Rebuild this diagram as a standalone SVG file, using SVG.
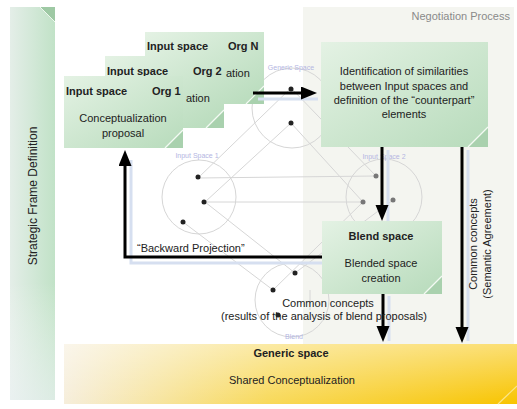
<svg xmlns="http://www.w3.org/2000/svg" width="517" height="409" viewBox="0 0 517 409">
<style>
text{font-family:"Liberation Sans",Arial,sans-serif;fill:#222}
.t11{font-size:11px}
.b{font-weight:bold}
.c{text-anchor:middle}
.faint{fill:none;stroke:#d6d6d6;stroke-width:1}
.flab{font-size:7px;fill:#b4b6e2}
.dot{fill:#222}
.dotg{fill:#777}
.arrow{fill:none;stroke:#000;stroke-width:3;marker-end:url(#ah)}
.shadow{fill:none;stroke:#d6dff0;stroke-width:3}
.fold{fill:#a9d1ae}
.foldline{stroke:#f4faf4;stroke-width:1.2}
</style>
<defs>
<linearGradient id="gCard" x1="0" y1="0" x2="1" y2="1">
<stop offset="0" stop-color="#e4f2e4"/>
<stop offset="1" stop-color="#b7dbbb"/>
</linearGradient>
<linearGradient id="gBar" x1="0" y1="0" x2="1" y2="0">
<stop offset="0" stop-color="#e4eee8"/>
<stop offset="1" stop-color="#c1e2c7"/>
</linearGradient>
<linearGradient id="gBarV" x1="0" y1="0" x2="0" y2="1">
<stop offset="0" stop-color="#fff" stop-opacity="0"/>
<stop offset="0.7" stop-color="#fff" stop-opacity="0"/>
<stop offset="1" stop-color="#eef2f6" stop-opacity="0.6"/>
</linearGradient>
<linearGradient id="gYel" x1="0" y1="0" x2="1" y2="0">
<stop offset="0" stop-color="#f6eedb"/>
<stop offset="0.45" stop-color="#f8d95a"/>
<stop offset="1" stop-color="#f8c400"/>
</linearGradient>
<linearGradient id="gYelV" x1="0" y1="0" x2="0" y2="1">
<stop offset="0" stop-color="#fff" stop-opacity="0.45"/>
<stop offset="1" stop-color="#fff" stop-opacity="0"/>
</linearGradient>
<marker id="ah" markerUnits="userSpaceOnUse" markerWidth="18" markerHeight="14" refX="2" refY="6.5" orient="auto">
<path d="M0,0 L16,6.5 L0,13 z" fill="#000"/>
</marker>
</defs>
<rect width="517" height="409" fill="#fff"/>

<g id="negotiation-panel">
<rect x="303" y="7" width="211" height="393" fill="#f4f5f0"/>
<text class="t11" x="510" y="20" text-anchor="end" style="fill:#8a8a8a">Negotiation Process</text>
</g>

<g id="strategic-frame">
<rect x="10" y="7" width="45" height="393" fill="url(#gBar)"/>
<rect x="10" y="7" width="45" height="393" fill="url(#gBarV)"/>
<path d="M40,7 L55,7 L55,22 z" fill="#9ec9a4"/>
<line x1="40" y1="7" x2="55" y2="22" stroke="#eef7ee" stroke-width="1"/>
<text class="c" x="37" y="196" transform="rotate(-90 37 196)" style="font-size:12px">Strategic Frame Definition</text>
</g>

<g id="blending-background">
<circle class="faint" cx="292" cy="108" r="40"/>
<circle class="faint" cx="199" cy="197" r="37"/>
<circle class="faint" cx="384" cy="197" r="38"/>
<circle class="faint" cx="292" cy="300" r="37"/>
<path class="faint" d="M291,88 L198,178 M291,123 L205,202 M291,88 L376,176 M291,123 L363,202 M198,178 L376,176 M205,202 L363,202 M205,202 L295,273 M183,222 L273,290 M363,202 L273,290 M393,200 L295,273 M310,290 L310,310"/>
<text class="flab c" x="291" y="70">Generic Space</text>
<text class="flab c" x="197" y="158">Input Space 1</text>
<text class="flab c" x="384" y="159">Input Space 2</text>
<text class="flab c" x="294" y="339">Blend</text>
<circle class="dot" cx="291" cy="89" r="2.5"/>
<circle class="dot" cx="291" cy="123" r="2.5"/>
<circle class="dot" cx="198" cy="177" r="2.5"/>
<circle class="dot" cx="204" cy="202" r="2.5"/>
<circle class="dot" cx="183" cy="222" r="2.5"/>
<circle class="dotg" cx="376" cy="176" r="2.5"/>
<circle class="dotg" cx="363" cy="202" r="2.5"/>
<circle class="dotg" cx="393" cy="200" r="2.5"/>
<circle class="dot" cx="295" cy="273" r="2.5"/>
<circle class="dot" cx="273" cy="290" r="2.5"/>
<circle class="dot" cx="278" cy="315" r="2.5"/>
</g>

<g id="generic-space">
<rect x="64" y="344" width="453" height="60" fill="url(#gYel)"/>
<rect x="64" y="344" width="453" height="60" fill="url(#gYelV)"/>
<line x1="498" y1="404" x2="517" y2="386" stroke="#fbe58a" stroke-width="1.2"/>
<text class="t11 b c" x="291" y="357">Generic space</text>
<text class="t11 c" x="292" y="384">Shared Conceptualization</text>
</g>

<g id="org-n">
<rect x="145" y="32" width="119" height="72" fill="url(#gCard)"/>
<path d="M246,104 L264,86 L264,104 z" class="fold"/>
<line class="foldline" x1="246" y1="104" x2="264" y2="86"/>
<text class="t11 b" x="147" y="50">Input space</text>
<text class="t11 b" x="228" y="50">Org N</text>
<text class="t11" x="226" y="77">ation</text>
</g>

<g id="org-2">
<rect x="105" y="56" width="119" height="72" fill="url(#gCard)"/>
<path d="M206,128 L224,110 L224,128 z" class="fold"/>
<line class="foldline" x1="206" y1="128" x2="224" y2="110"/>
<text class="t11 b" x="107" y="75">Input space</text>
<text class="t11 b" x="193" y="75">Org 2</text>
<text class="t11" x="186" y="102">ation</text>
</g>

<g id="org-1">
<rect x="64" y="76" width="119" height="72" fill="url(#gCard)"/>
<path d="M165,148 L183,130 L183,148 z" class="fold"/>
<line class="foldline" x1="165" y1="148" x2="183" y2="130"/>
<text class="t11 b" x="66" y="95">Input space</text>
<text class="t11 b" x="152" y="95">Org 1</text>
<text class="t11 c" x="123" y="122">Conceptualization</text>
<text class="t11 c" x="123" y="137">proposal</text>
</g>

<g id="identification">
<rect x="321" y="42" width="167" height="105" fill="url(#gCard)"/>
<path d="M468,147 L488,127 L488,147 z" class="fold"/>
<line class="foldline" x1="468" y1="147" x2="488" y2="127"/>
<text class="t11 c" x="404" y="75">Identification of similarities</text>
<text class="t11 c" x="404" y="90">between Input spaces and</text>
<text class="t11 c" x="404" y="104">definition of the “counterpart”</text>
<text class="t11 c" x="404" y="118">elements</text>
</g>

<g id="blend-space">
<rect x="322" y="221" width="120" height="73" fill="url(#gCard)"/>
<path d="M424,294 L442,276 L442,294 z" class="fold"/>
<line class="foldline" x1="424" y1="294" x2="442" y2="276"/>
<text class="t11 b c" x="381" y="240">Blend space</text>
<text class="t11 c" x="381" y="267">Blended space</text>
<text class="t11 c" x="381" y="282">creation</text>
</g>

<g id="connectors">
<path class="shadow" d="M258,99 H318"/>
<path class="shadow" d="M388,150 V221"/>
<path class="shadow" d="M322,263 H131 V160"/>
<path class="shadow" d="M389,296 V341"/>
<path class="shadow" d="M468,150 V341"/>
<path class="arrow" d="M253,93 H303"/>
<path class="arrow" d="M382,147 V207"/>
<path class="arrow" d="M322,257 H125 V164"/>
<path class="arrow" d="M383,294 V328"/>
<path class="arrow" d="M462,147 V329"/>
</g>

<g id="labels">
<text class="t11" x="137" y="252">“Backward Projection”</text>
<text class="t11 c" x="328" y="307">Common concepts</text>
<text class="t11 c" x="324" y="320">(results of the analysis of blend proposals)</text>
<text class="t11 c" x="477" y="244" transform="rotate(-90 477 244)">Common concepts</text>
<text class="t11 c" x="491" y="244" transform="rotate(-90 491 244)">(Semantic Agreement)</text>
</g>
</svg>
